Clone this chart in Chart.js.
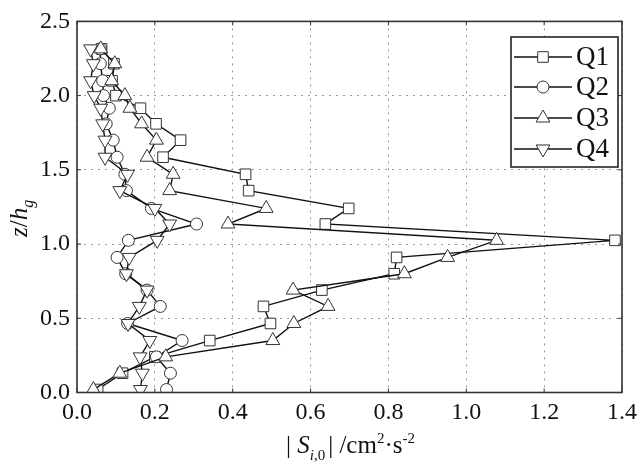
<!DOCTYPE html>
<html>
<head>
<meta charset="utf-8">
<script src="https://cdn.jsdelivr.net/npm/chart.js@4.4.1/dist/chart.umd.min.js"></script>
<style>
  body { margin: 0; background: #fff; }
  #wrap { width: 643px; height: 465px; }
</style>
</head>
<body>
<div id="wrap"><canvas id="quadChart"></canvas></div>
<script>
// measurement heights z/hg
const zLevels = [0.02, 0.13, 0.24, 0.35, 0.465, 0.58, 0.69, 0.80, 0.91, 1.025, 1.135,
                 1.24, 1.36, 1.47, 1.585, 1.70, 1.81, 1.915, 2.00, 2.10, 2.215, 2.315];
const q1 = [0.053, 0.117, 0.200, 0.341, 0.497, 0.479, 0.629, 0.815, 0.821, 1.382, 0.638,
            0.698, 0.441, 0.433, 0.221, 0.266, 0.203, 0.163, 0.100, 0.090, 0.095, 0.063];
const q2 = [0.230, 0.240, 0.204, 0.270, 0.130, 0.214, 0.180, 0.125, 0.103, 0.132, 0.307,
            0.191, 0.127, 0.123, 0.103, 0.093, 0.075, 0.083, 0.068, 0.066, 0.060, 0.060];
const q3 = [0.042, 0.110, 0.228, 0.503, 0.557, 0.645, 0.555, 0.841, 0.952, 1.078, 0.388,
            0.486, 0.238, 0.247, 0.180, 0.204, 0.166, 0.136, 0.123, 0.089, 0.097, 0.061];
const q4 = [0.163, 0.168, 0.162, 0.187, 0.131, 0.160, 0.180, 0.127, 0.134, 0.206, 0.238,
            0.200, 0.110, 0.130, 0.072, 0.072, 0.066, 0.061, 0.044, 0.035, 0.042, 0.035];
const seriesNames = ["Q1", "Q2", "Q3", "Q4"];
const xTicks = [0.0, 0.2, 0.4, 0.6, 0.8, 1.0, 1.2, 1.4];
const yTicks = [0.0, 0.5, 1.0, 1.5, 2.0, 2.5];

const serif = "'Liberation Serif', 'Times New Roman', serif";
const markers = [
  { style: "rect", radius: 7.5, rotation: 0 },
  { style: "circle", radius: 6, rotation: 0 },
  { style: "triangle", radius: 8, rotation: 0 },
  { style: "triangle", radius: 8, rotation: 180 }
];

function makeSet(name, xs, m, order) {
  return {
    label: name,
    order: order,
    data: xs.map((x, i) => ({ x: x, y: zLevels[i] })),
    showLine: true,
    borderColor: "#111",
    borderWidth: 1.4,
    pointStyle: m.style,
    pointRadius: m.radius,
    pointRotation: m.rotation,
    pointBackgroundColor: "#fff",
    pointBorderColor: "#333",
    pointBorderWidth: 1
  };
}

function drawMarker(ctx, m, x, y) {
  ctx.beginPath();
  if (m.style === "rect") {
    const s = m.radius / Math.SQRT2;
    ctx.rect(x - s, y - s, 2 * s, 2 * s);
  } else if (m.style === "circle") {
    ctx.arc(x, y, m.radius, 0, Math.PI * 2);
  } else {
    let a = m.rotation * Math.PI / 180;
    for (let k = 0; k < 3; k++) {
      const px = x + Math.sin(a) * m.radius, py = y - Math.cos(a) * m.radius;
      if (k === 0) ctx.moveTo(px, py); else ctx.lineTo(px, py);
      a += Math.PI * 2 / 3;
    }
    ctx.closePath();
  }
  ctx.fillStyle = "#fff";
  ctx.fill();
  ctx.strokeStyle = "#333";
  ctx.lineWidth = 1;
  ctx.stroke();
}

const framePlugin = {
  id: "frame",
  afterDraw(chart) {
    const ctx = chart.ctx, a = chart.chartArea;
    const sx = chart.scales.x, sy = chart.scales.y;
    ctx.save();
    // inward ticks
    ctx.strokeStyle = "#333";
    ctx.lineWidth = 1;
    xTicks.forEach(v => {
      const px = sx.getPixelForValue(v);
      ctx.beginPath();
      ctx.moveTo(px, a.bottom); ctx.lineTo(px, a.bottom - 4);
      ctx.moveTo(px, a.top); ctx.lineTo(px, a.top + 4);
      ctx.stroke();
    });
    yTicks.forEach(v => {
      const py = sy.getPixelForValue(v);
      ctx.beginPath();
      ctx.moveTo(a.left, py); ctx.lineTo(a.left + 4, py);
      ctx.moveTo(a.right, py); ctx.lineTo(a.right - 4, py);
      ctx.stroke();
    });
    // frame
    ctx.lineWidth = 1.6;
    ctx.strokeRect(a.left, a.top, a.right - a.left, a.bottom - a.top);

    // legend
    const lx = 511, ly = 37, lw = 107, lh = 130;
    ctx.fillStyle = "#fff";
    ctx.fillRect(lx, ly, lw, lh);
    ctx.lineWidth = 1.6;
    ctx.strokeStyle = "#222";
    ctx.strokeRect(lx, ly, lw, lh);
    const rows = [57, 87, 118, 149];
    seriesNames.forEach((name, i) => {
      const y = rows[i];
      ctx.beginPath();
      ctx.strokeStyle = "#111";
      ctx.lineWidth = 1.4;
      ctx.moveTo(514, y); ctx.lineTo(572, y);
      ctx.stroke();
      drawMarker(ctx, markers[i], 543, y);
      ctx.fillStyle = "#111";
      ctx.font = "27px " + serif;
      ctx.textBaseline = "middle";
      ctx.textAlign = "left";
      ctx.fillText(name, 576, y + 1);
    });

    // x axis title: | S_i,0 | /cm2·s-2
    ctx.fillStyle = "#111";
    ctx.textBaseline = "alphabetic";
    let x = 286; const by = 453;
    ctx.font = "25px " + serif;
    ctx.fillText("|", x, by); x += ctx.measureText("| ").width;
    ctx.font = "italic 25px " + serif;
    ctx.fillText("S", x, by); x += ctx.measureText("S").width;
    ctx.font = "italic 15px " + serif;
    ctx.fillText("i", x, by + 7); x += ctx.measureText("i").width;
    ctx.font = "15px " + serif;
    ctx.fillText(",0", x, by + 7); x += ctx.measureText(",0").width + 3;
    ctx.font = "25px " + serif;
    ctx.fillText("| /cm", x, by); x += ctx.measureText("| /cm").width;
    ctx.font = "15px " + serif;
    ctx.fillText("2", x, by - 10); x += ctx.measureText("2").width;
    ctx.font = "25px " + serif;
    ctx.fillText("\u00b7s", x, by); x += ctx.measureText("\u00b7s").width;
    ctx.font = "15px " + serif;
    ctx.fillText("-2", x, by - 10);

    // y axis title: z/h_g rotated
    ctx.translate(27, 237);
    ctx.rotate(-Math.PI / 2);
    let t = 0;
    ctx.font = "italic 25px " + serif;
    ctx.fillText("z", t, 0); t += ctx.measureText("z").width;
    ctx.font = "25px " + serif;
    ctx.fillText("/", t, 0); t += ctx.measureText("/").width;
    ctx.font = "italic 25px " + serif;
    ctx.fillText("h", t, 0); t += ctx.measureText("h").width;
    ctx.font = "italic 16px " + serif;
    ctx.fillText("g", t, 6);
    ctx.restore();
  }
};

new Chart(document.getElementById("quadChart"), {
  type: "scatter",
  data: {
    datasets: [
      makeSet(seriesNames[0], q1, markers[0], 3),
      makeSet(seriesNames[1], q2, markers[1], 2),
      makeSet(seriesNames[2], q3, markers[2], 1),
      makeSet(seriesNames[3], q4, markers[3], 0)
    ]
  },
  options: {
    responsive: true,
    maintainAspectRatio: false,
    animation: false,
    layout: { padding: { top: 21, right: 20, left: 0, bottom: 0 } },
    plugins: { legend: { display: false }, tooltip: { enabled: false } },
    scales: {
      x: {
        type: "linear",
        min: 0, max: 1.4,
        afterFit(scale) { scale.height = 72.5; },
        afterBuildTicks(scale) { scale.ticks = xTicks.map(v => ({ value: v })); },
        ticks: {
          color: "#111",
          padding: 6,
          font: { family: serif, size: 24 },
          callback: v => v.toFixed(1)
        },
        grid: { color: "#999", lineWidth: 1, drawTicks: false },
        border: { display: false, dash: [2, 5] }
      },
      y: {
        type: "linear",
        min: 0, max: 2.5,
        afterFit(scale) { scale.width = 77; },
        afterBuildTicks(scale) { scale.ticks = yTicks.map(v => ({ value: v })); },
        ticks: {
          color: "#111",
          padding: 7,
          font: { family: serif, size: 24 },
          callback: v => v.toFixed(1)
        },
        grid: { color: "#999", lineWidth: 1, drawTicks: false },
        border: { display: false, dash: [2, 5] }
      }
    }
  },
  plugins: [framePlugin]
});
</script>
</body>
</html>
